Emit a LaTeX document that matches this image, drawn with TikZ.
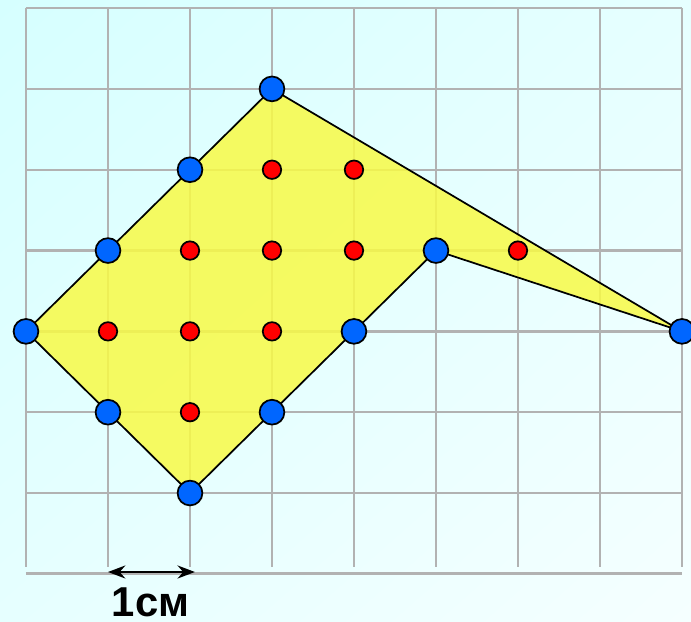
\documentclass[tikz,border=0pt]{standalone}
\usepackage{fontspec}
\setmainfont{Liberation Sans}
\usetikzlibrary{arrows.meta, shadings}
\definecolor{skytop}{RGB}{214,255,255}
\definecolor{skymid}{RGB}{230,255,255}
\definecolor{skylow}{RGB}{245,255,255}
\definecolor{gridgray}{RGB}{178,178,178}
\definecolor{lemon}{RGB}{248,250,70}
\definecolor{dotblue}{RGB}{0,102,255}
\definecolor{dotred}{RGB}{255,0,0}

\tikzset{
  vertex/.style={circle, draw=black, line width=0.6pt, fill=dotblue, inner sep=0pt, minimum size=8.6pt},
  inner/.style={circle, draw=black, line width=0.6pt, fill=dotred, inner sep=0pt, minimum size=6.4pt},
  gridline/.style={gridgray, line width=0.8pt}
}

\begin{document}
\begin{tikzpicture}[x=1cm, y=0.9857cm]
  \useasboundingbox (-0.317,-1.584) rectangle (8.110,6.1);
  \shade[upper left=skytop, upper right=skymid, lower left=skymid, lower right=skylow]
    (-0.317,-1.584) rectangle (8.110,6.1);

  % squared paper
  \foreach \x in {0,...,8}
    \draw[gridline] (\x,-0.915) -- (\x,6);
  \foreach \y in {0,...,6}
    \draw[gridline] (0,\y) -- (8,\y);
  \draw[gridgray, line width=1.2pt] (0,-0.996) -- (8,-0.996);

  % corners of the figure
  \coordinate (top) at (3,5);
  \coordinate (tip) at (8,2);
  \coordinate (notch) at (5,3);
  \coordinate (r2) at (4,2);
  \coordinate (r1) at (3,1);
  \coordinate (bottom) at (2,0);
  \coordinate (l1) at (1,1);
  \coordinate (left) at (0,2);
  \coordinate (l3) at (1,3);
  \coordinate (l4) at (2,4);
  \filldraw[fill=lemon, fill opacity=0.85, line width=0.6pt]
    (top) -- (tip) -- (notch) -- (r2) -- (r1) -- (bottom) -- (l1) -- (left) -- (l3) -- (l4) -- cycle;

  % points on the border
  \foreach \c in {top,tip,notch,r2,r1,bottom,l1,left,l3,l4}
    \node[vertex] (v-\c) at (\c) {};

  % points inside
  \foreach \x/\y in {3/4,4/4,2/3,3/3,4/3,6/3,1/2,2/2,3/2,2/1}
    \node[inner] (in-\x-\y) at (\x,\y) {};

  % unit length
  \coordinate (u0) at (1,-0.977);
  \coordinate (u1) at (2.06,-0.977);
  \draw[{Stealth[length=6pt,width=4.5pt]}-{Stealth[length=6pt,width=4.5pt]}, line width=0.9pt] (u0) -- (u1);
  \node[anchor=base, inner sep=0pt, font=\bfseries\fontsize{14.5}{16}\selectfont] (unit) at (1.52,-1.53) {1см};
\end{tikzpicture}
\end{document}
